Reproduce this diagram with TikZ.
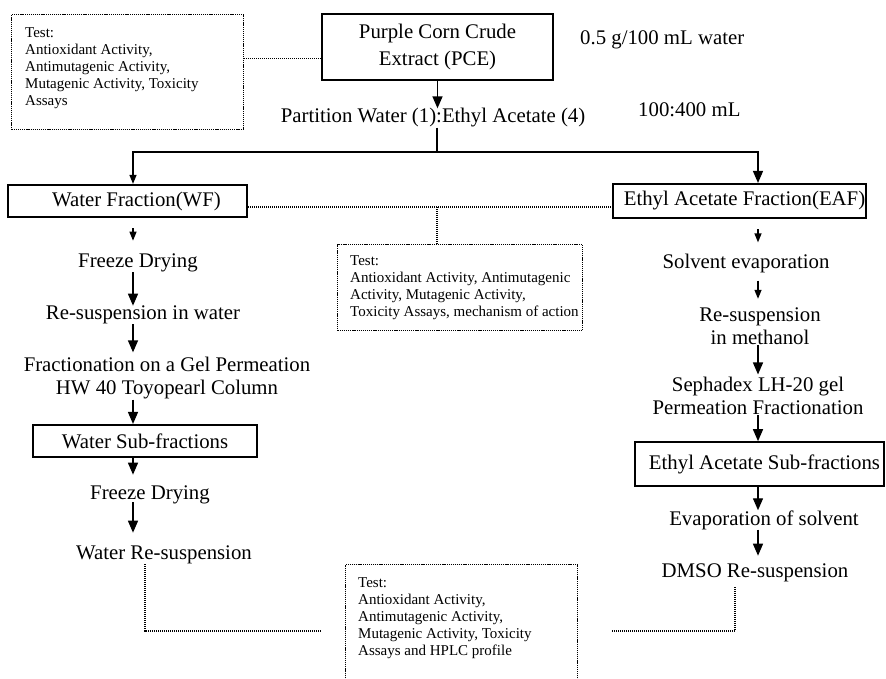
\documentclass[tikz,border=0pt]{standalone}
\usepackage{fontspec}
\setmainfont{Liberation Serif}
\usetikzlibrary{arrows.meta}
\begin{document}
\begin{tikzpicture}[x=1pt,y=-1pt,
  bigarrow/.style={draw, line width=1.4pt, -{Triangle[length=12pt,width=10pt]}},
  smallarrow/.style={draw, line width=1.3pt, -{Triangle[length=9pt,width=7pt]}},
  plainline/.style={draw, line width=1.4pt},
  dotline/.style={draw, line width=1.1pt, dash pattern=on 1.1pt off 0.9pt},
  solidbox/.style={draw, line width=1.8pt, inner sep=0pt},
  testbox/.style={draw, line width=1.3pt, dash pattern=on 1.2pt off 0.9pt, inner sep=0pt},
  bigtxt/.style={font=\fontsize{20.8}{23}\selectfont, inner sep=0pt, align=center},
  smalltxt/.style={font=\fontsize{15}{17}\selectfont, inner sep=0pt, align=left}]
\useasboundingbox[fill=white] (0,0) rectangle (886,679);
\coordinate (colL) at (133,0);
\coordinate (colR) at (758,0);
\coordinate (split) at (437,152);
\coordinate (bl) at (322,631);
\coordinate (br) at (612,631);

% top
\node[testbox, minimum width=232pt, minimum height=115pt, anchor=north west] (t1) at (11,14) {};
\node[smalltxt, anchor=north west] (t1txt) at (25,27) {Test:\\Antioxidant Activity,\\Antimutagenic Activity,\\Mutagenic Activity, Toxicity\\Assays};
\node[solidbox, line width=1.6pt, minimum width=231pt, minimum height=66pt, bigtxt, font=\fontsize{20.8}{27}\selectfont] (pce) at (437.5,47) {Purple Corn Crude\\Extract (PCE)};
\node[bigtxt, anchor=west] (conc) at (580,40) {0.5 g/100 mL water};
\node[bigtxt] (part) at (433,118) {Partition Water (1):Ethyl Acetate (4)};
\node[bigtxt, anchor=west] (ratio) at (638,110) {100:400 mL};

% fractions
\node[solidbox, line width=2.3pt, minimum width=239pt, minimum height=32pt, bigtxt] (wf) at (127.5,201) {\hspace*{18pt}Water Fraction(WF)};
\node[solidbox, line width=2.1pt, minimum width=253pt, minimum height=34pt, bigtxt] (eaf) at (739.5,201) {\hspace*{10pt}Ethyl Acetate Fraction(EAF)};
\node[testbox, minimum width=245pt, minimum height=86pt, anchor=north west] (t2) at (337,244) {};
\node[smalltxt, anchor=north west] (t2txt) at (350,255) {Test:\\Antioxidant Activity, Antimutagenic\\Activity, Mutagenic Activity,\\Toxicity Assays, mechanism of action};

% left column
\node[bigtxt] (fd1) at (138,263) {Freeze Drying};
\node[bigtxt] (rsw) at (143,315) {Re-suspension in water};
\node[bigtxt] (frac) at (167,378.5) {Fractionation on a Gel Permeation\\HW 40 Toyopearl Column};
\node[solidbox, line width=2.1pt, minimum width=224pt, minimum height=32pt, bigtxt] (wsf) at (145,441) {Water Sub-fractions};
\node[bigtxt] (fd2) at (150,495) {Freeze Drying};
\node[bigtxt] (wrs) at (164,555) {Water Re-suspension};

% right column
\node[bigtxt] (sev) at (746,263) {Solvent evaporation};
\node[bigtxt] (rsm) at (760,326.5) {Re-suspension\\in methanol};
\node[bigtxt] (seph) at (758,396) {Sephadex LH-20 gel\\Permeation Fractionation};
\node[solidbox, line width=1.6pt, minimum width=249pt, minimum height=44pt, bigtxt] (eas) at (759.5,464) {\hspace*{10pt}Ethyl Acetate Sub-fractions};
\node[bigtxt] (evs) at (764,520) {Evaporation of solvent};
\node[bigtxt] (dmso) at (755,573) {DMSO Re-suspension};

% bottom
\node[testbox, minimum width=232pt, minimum height=140pt, anchor=north west] (t3) at (345,564) {};
\node[smalltxt, anchor=north west] (t3txt) at (358,577) {Test:\\Antioxidant Activity,\\Antimutagenic Activity,\\Mutagenic Activity, Toxicity\\Assays and HPLC profile};

% connectors
\draw[dotline] ([yshift=14pt]t1.east) -- ([yshift=14pt]t1.east -| pce.west);
\draw[bigarrow] (pce.south) -- (pce.south |- part.north);
\draw[plainline] (part.south -| split) -- (split);
\draw[smallarrow] (split) -| (wf.north -| colL);
\draw[bigarrow] (split) -| (eaf.north -| colR);
\draw[dotline] ([yshift=-6pt]wf.east) -- ([yshift=-6pt]wf.east -| eaf.west);
\draw[dotline] ([yshift=-6pt]wf.east -| split) -- (t2.north -| split);

\draw[smallarrow, shorten <=10pt, shorten >=13pt] (wf.south -| colL) -- (fd1.north -| colL);
\draw[bigarrow] (fd1.south -| colL) -- (rsw.north -| colL);
\draw[bigarrow, shorten >=5pt] (rsw.south -| colL) -- (frac.north -| colL);
\draw[bigarrow] (frac.south -| colL) -- (wsf.north -| colL);
\draw[bigarrow, shorten >=11pt] (wsf.south -| colL) -- (fd2.north -| colL);
\draw[bigarrow, shorten <=-2pt, shorten >=13pt] (fd2.south -| colL) -- (wrs.north -| colL);
\draw[dotline] ([xshift=-19pt]wrs.south) |- (bl);

\draw[smallarrow, shorten <=10pt, shorten >=11pt] (eaf.south -| colR) -- (sev.north -| colR);
\draw[smallarrow, shorten <=8pt, shorten >=9pt] (sev.south -| colR) -- (rsm.north -| colR);
\draw[bigarrow, shorten >=2.5pt] (rsm.south -| colR) -- (seph.north -| colR);
\draw[bigarrow] (seph.south -| colR) -- (eas.north -| colR);
\draw[bigarrow] (eas.south -| colR) -- (evs.north -| colR);
\draw[bigarrow, shorten >=8pt] (evs.south -| colR) -- (dmso.north -| colR);
\draw[dotline, shorten <=5pt] ([xshift=-20pt]dmso.south) |- (br);
\end{tikzpicture}
\end{document}
